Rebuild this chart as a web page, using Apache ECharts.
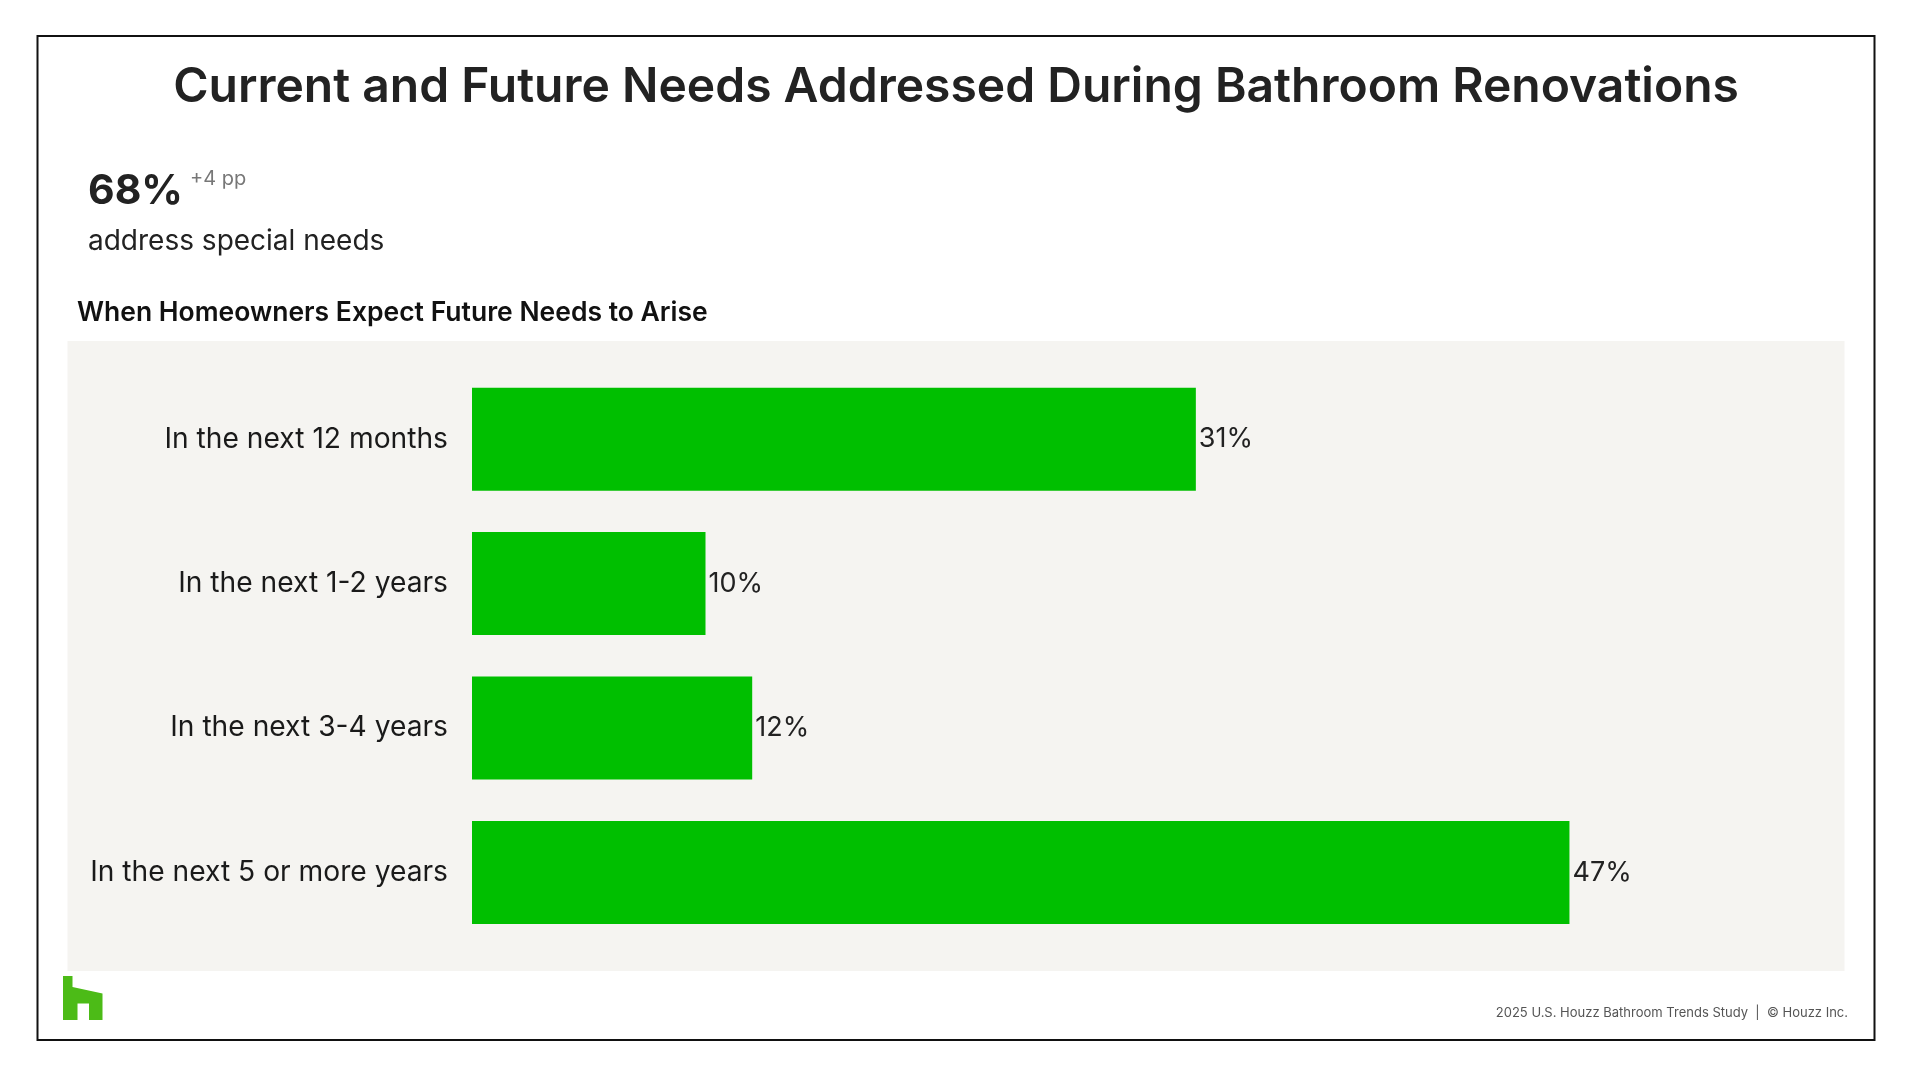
<!DOCTYPE html>
<html><head><meta charset="utf-8">
<style>html,body{margin:0;padding:0;background:#fff;}#c{width:1912px;height:1078px;}</style>
<script src="https://cdn.jsdelivr.net/npm/echarts@6/dist/echarts.min.js"></script>
</head><body><div id="c"></div>
<script>
const categories = ['In the next 12 months','In the next 1-2 years','In the next 3-4 years','In the next 5 or more years'];
const values = [31, 10, 12, 47];
const titleText = 'Current and Future Needs Addressed During Bathroom Renovations';
const kpiValue = '68%';
const kpiDelta = '+4 pp';
const kpiLabel = 'address special needs';
const subTitle = 'When Homeowners Expect Future Needs to Arise';
const footer = '2025 U.S. Houzz Bathroom Trends Study  |  © Houzz Inc.';

const FONT = 'Inter, "Noto Sans", sans-serif';
const chart = echarts.init(document.getElementById('c'), null, {renderer:'canvas'});
chart.setOption({
  backgroundColor: '#ffffff',
  animation: false,
  grid: {left: 472, top: 367, width: 1167.5, height: 577.6, containLabel: false},
  xAxis: {type:'value', min:0, max:50, show:false},
  yAxis: {type:'category', data: categories, inverse: true,
    axisLine:{show:false}, axisTick:{show:false}, splitLine:{show:false},
    axisLabel:{fontFamily: FONT, fontSize: 28.2, color:'#1a1a1a', margin: 24, padding:[8,0,0,0]}},
  graphic: [
    {type:'rect', z:-10, shape:{x:67.5, y:341, width:1777, height:630}, style:{fill:'#f5f4f1'}},
    {type:'rect', z:100, shape:{x:37.5, y:36, width:1837, height:1004}, style:{fill:'none', stroke:'#111', lineWidth:2}},
    {type:'text', x:956, y:87.5, style:{text:titleText, font:'600 48px '+FONT, fill:'#222', textAlign:'center', textVerticalAlign:'middle'}},
    {type:'text', x:88, y:192, style:{text:kpiValue, font:'700 41px '+FONT, fill:'#222', textAlign:'left', textVerticalAlign:'middle'}},
    {type:'text', x:190, y:179, style:{text:kpiDelta, font:'400 20px '+FONT, fill:'#777', textAlign:'left', textVerticalAlign:'middle'}},
    {type:'text', x:88, y:242, style:{text:kpiLabel, font:'400 28px '+FONT, fill:'#222', textAlign:'left', textVerticalAlign:'middle'}},
    {type:'text', x:77, y:313, style:{text:subTitle, font:'600 26.5px '+FONT, fill:'#111', textAlign:'left', textVerticalAlign:'middle'}},
    {type:'polygon', shape:{points:[[63,976],[72.5,976],[72.5,987],[102.5,993.5],[102.5,1020],[89,1020],[89,1003.5],[77.5,1003.5],[77.5,1020],[63,1020]]}, style:{fill:'#4cbb17'}},
    {type:'text', x:1848, y:1013, style:{text:footer, font:'400 13px '+FONT, fill:'#555', textAlign:'right', textVerticalAlign:'middle'}}
  ],
  series: [{
    type:'bar', data: values, barWidth: 103,
    itemStyle:{color:'#00bf00'},
    label:{show:true, position:'right', distance:3, formatter:'{c}%', fontFamily: FONT, fontSize: 27, color:'#222', padding:[8,0,0,0]}
  }]
});
</script></body></html>
